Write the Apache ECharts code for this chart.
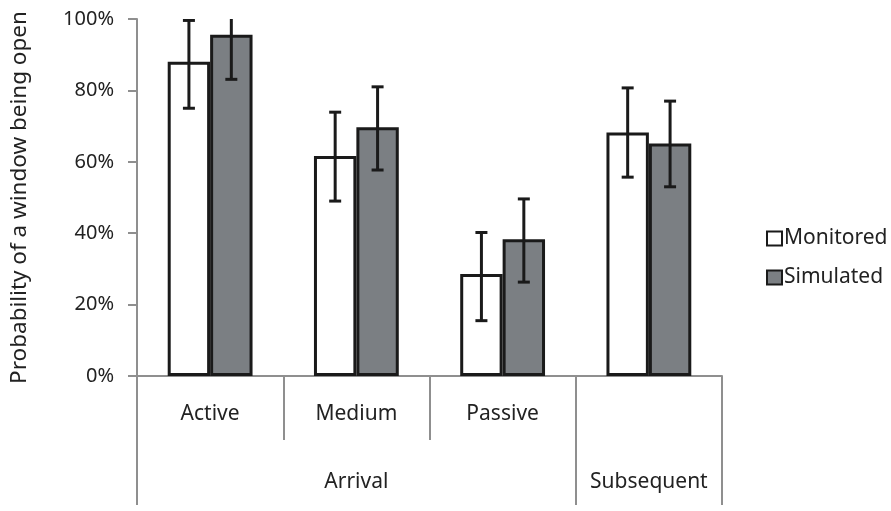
<!DOCTYPE html>
<html>
<head>
<meta charset="utf-8">
<script src="https://cdn.jsdelivr.net/npm/echarts@6/dist/echarts.min.js"></script>
<style>html,body{margin:0;padding:0;background:#fff}#c{width:891px;height:511px}</style>
</head>
<body>
<div id="c"></div>
<script>
// ---- data ----
var categories = ['Active', 'Medium', 'Passive', 'Subsequent'];
var subLabels = ['Active', 'Medium', 'Passive', ''];
var groups = ['Arrival', 'Subsequent'];
var groupSpans = [[0, 3], [3, 4]];
var seriesNames = ['Monitored', 'Simulated'];
var monitored = [88, 61.6, 28.6, 68.2];
var monitoredLow = [75, 49, 15.5, 55.7];
var monitoredHigh = [99.6, 73.9, 40.2, 80.7];
var simulated = [95.6, 69.7, 38.3, 65.1];
var simulatedLow = [83.1, 57.7, 26.3, 53];
var simulatedHigh = [108, 81, 49.6, 77];

var FONT = 'Noto Sans';
var AXIS_GRAY = '#8f8f8f';
var BAR_WIDTH_FRAC = 0.29;

function errSeries(name, low, high, side) {
  var data = low.map(function (l, i) { return [i, l, high[i]]; });
  return {
    type: 'custom',
    name: name,
    clip: true,
    z: 10,
    data: data,
    encode: { x: 0, y: [1, 2] },
    renderItem: function (params, api) {
      var idx = api.value(0);
      var catW = api.size([1, 0])[0];
      var bw = catW * BAR_WIDTH_FRAC;
      var pLow = api.coord([idx, api.value(1)]);
      var pHigh = api.coord([idx, api.value(2)]);
      var x = pLow[0] + side * bw / 2;
      var cap = 6;
      var st = { stroke: '#1a1a1a', lineWidth: 3 };
      return {
        type: 'group',
        children: [
          { type: 'line', shape: { x1: x, y1: pLow[1], x2: x, y2: pHigh[1] }, style: st },
          { type: 'line', shape: { x1: x - cap, y1: pLow[1], x2: x + cap, y2: pLow[1] }, style: st },
          { type: 'line', shape: { x1: x - cap, y1: pHigh[1], x2: x + cap, y2: pHigh[1] }, style: st }
        ]
      };
    }
  };
}

var groupLabelPos = groupSpans.map(function (s) { return (s[0] + s[1]) / 2; });
var groupBounds = [];
groupSpans.forEach(function (s) {
  if (groupBounds.indexOf(s[0]) < 0) groupBounds.push(s[0]);
  if (groupBounds.indexOf(s[1]) < 0) groupBounds.push(s[1]);
});

var chart = echarts.init(document.getElementById('c'), null, { renderer: 'canvas' });
chart.setOption({
  animation: false,
  backgroundColor: '#fff',
  textStyle: { fontFamily: FONT },
  grid: { left: 136, right: 169, top: 19, bottom: 135, containLabel: false },
  legend: {
    orient: 'vertical',
    left: 761,
    top: 223,
    icon: 'rect',
    itemWidth: 15,
    itemHeight: 14,
    itemGap: 18,
    data: seriesNames,
    textStyle: { fontFamily: FONT, fontSize: 21, color: '#222', padding: [0, 0, 0, -3] }
  },
  xAxis: [
    {
      type: 'category',
      data: categories,
      position: 'bottom',
      axisLine: { show: true, lineStyle: { color: AXIS_GRAY, width: 2 } },
      axisTick: { show: true, interval: 0, length: 64, lineStyle: { color: AXIS_GRAY, width: 2 } },
      axisLabel: {
        interval: 0, margin: 38, verticalAlign: 'middle', fontFamily: FONT, fontSize: 21, color: '#222',
        formatter: function (v, i) { return subLabels[i]; }
      },
      splitLine: { show: false }
    },
    {
      type: 'value',
      min: 0,
      max: categories.length,
      position: 'bottom',
      axisLine: { show: false },
      axisTick: { show: true, customValues: groupBounds, length: 129, lineStyle: { color: AXIS_GRAY, width: 2 } },
      axisLabel: {
        customValues: groupLabelPos,
        margin: 106,
        verticalAlign: 'middle',
        fontFamily: FONT, fontSize: 21, color: '#222',
        formatter: function (v) { return groups[groupLabelPos.indexOf(v)]; }
      },
      splitLine: { show: false }
    }
  ],
  yAxis: {
    type: 'value',
    min: 0,
    max: 100,
    interval: 20,
    name: 'Probability of a window being open',
    nameLocation: 'middle',
    nameRotate: 90,
    nameGap: 106,
    nameTextStyle: { fontFamily: FONT, fontSize: 22.5, color: '#222' },
    axisLine: { show: true, lineStyle: { color: AXIS_GRAY, width: 2 } },
    axisTick: { show: true, length: 9, lineStyle: { color: AXIS_GRAY, width: 2 } },
    axisLabel: { margin: 23, fontFamily: FONT, fontSize: 20, color: '#222', formatter: '{value}%' },
    splitLine: { show: false }
  },
  series: [
    {
      type: 'bar', name: seriesNames[0], data: monitored, xAxisIndex: 0,
      barWidth: (BAR_WIDTH_FRAC * 100) + '%', barGap: '0%',
      itemStyle: { color: '#ffffff', borderColor: '#1a1a1a', borderWidth: 3 }
    },
    {
      type: 'bar', name: seriesNames[1], data: simulated, xAxisIndex: 0,
      barWidth: (BAR_WIDTH_FRAC * 100) + '%', barGap: '0%',
      itemStyle: { color: '#7b7f83', borderColor: '#1a1a1a', borderWidth: 3 }
    },
    errSeries('Monitored error', monitoredLow, monitoredHigh, -1),
    errSeries('Simulated error', simulatedLow, simulatedHigh, 1)
  ]
});
</script>
</body>
</html>
